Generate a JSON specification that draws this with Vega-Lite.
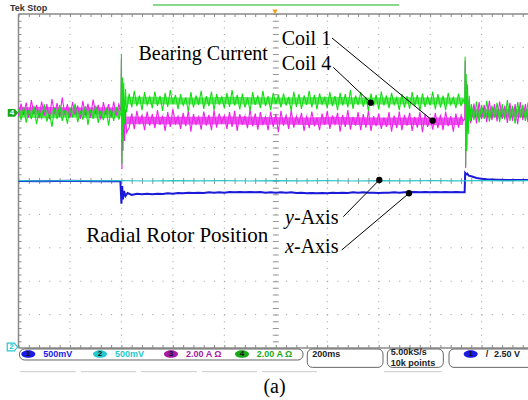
{
"$schema": "https://vega.github.io/schema/vega-lite/v6.json",
"width": 528, "height": 400, "padding": 0, "autosize": "none",
"background": "white",
"config": {"view": {"stroke": null}},
"encoding": {
  "x": {"field": "x", "type": "quantitative", "scale": {"domain": [-0.3595, 9.901], "nice": false, "zero": false}, "axis": null},
  "y": {"field": "y", "type": "quantitative", "scale": {"domain": [-6.557, 5.419], "nice": false, "zero": false}, "axis": null}
},
"layer": [
  {"data": {"name": "hgrid"}, "mark": {"type": "rule", "color": "#9a9a9a", "strokeWidth": 1, "strokeDash": [1, 9.29]}, "encoding": {"x2": {"field": "x2"}}},
  {"data": {"name": "vgrid"}, "mark": {"type": "rule", "color": "#9a9a9a", "strokeWidth": 1, "strokeDash": [1, 5.68]}, "encoding": {"y2": {"field": "y2"}}},
  {"data": {"name": "hticks"}, "mark": {"type": "rule", "color": "#999999", "strokeWidth": 6, "strokeDash": [1, 9.29]}, "encoding": {"x2": {"field": "x2"}}},
  {"data": {"name": "vticks"}, "mark": {"type": "rule", "color": "#999999", "strokeWidth": 6, "strokeDash": [1, 5.68]}, "encoding": {"y2": {"field": "y2"}}},
  {"data": {"name": "border"}, "mark": {"type": "rule", "color": "#8a8a8a", "strokeWidth": 1.5}, "encoding": {"x2": {"field": "x2"}, "y2": {"field": "y2"}}},
  {"data": {"name": "btickh"}, "mark": {"type": "rule", "color": "#8a8a8a", "strokeWidth": 3, "strokeDash": [1, 9.29]}, "encoding": {"x2": {"field": "x2"}}},
  {"data": {"name": "btickv"}, "mark": {"type": "rule", "color": "#8a8a8a", "strokeWidth": 3, "strokeDash": [1, 5.68]}, "encoding": {"y2": {"field": "y2"}}},
  {"data": {"name": "blue"}, "mark": {"type": "line", "color": "#1a1ad8", "strokeWidth": 2}},
  {"data": {"name": "teal"}, "mark": {"type": "line", "color": "#2cc6c6", "strokeWidth": 1.2}},
  {"data": {"name": "band"}, "mark": {"type": "area", "color": "#ea3aea", "opacity": 0.85},
   "encoding": {"y": {"field": "mlo", "type": "quantitative", "scale": {"domain": [-6.557, 5.419], "nice": false, "zero": false}, "axis": null}, "y2": {"field": "mhi"}, "detail": {"field": "seg"}}},
  {"data": {"name": "band"}, "mark": {"type": "area", "color": "#2ee22e", "opacity": 0.75},
   "encoding": {"y": {"field": "glo", "type": "quantitative", "scale": {"domain": [-6.557, 5.419], "nice": false, "zero": false}, "axis": null}, "y2": {"field": "ghi"}, "detail": {"field": "seg"}}},
  {"data": {"name": "ch"}, "mark": {"type": "line", "color": "#ee22ee", "strokeWidth": 1.1},
   "encoding": {"y": {"field": "m", "type": "quantitative", "scale": {"domain": [-6.557, 5.419], "nice": false, "zero": false}, "axis": null}}},
  {"data": {"name": "ch"}, "mark": {"type": "line", "color": "#14dc14", "strokeWidth": 1.1},
   "encoding": {"y": {"field": "g", "type": "quantitative", "scale": {"domain": [-6.557, 5.419], "nice": false, "zero": false}, "axis": null}}},
  {"data": {"name": "ann"}, "mark": {"type": "rule", "color": "black", "strokeWidth": 1}, "encoding": {"x2": {"field": "x2"}, "y2": {"field": "y2"}}},
  {"data": {"name": "dots"}, "mark": {"type": "point", "filled": true, "color": "black", "size": 40, "opacity": 1}},
  {"data": {"name": "lab"}, "mark": {"type": "text", "font": "Liberation Serif", "fontSize": 20, "align": "left", "baseline": "alphabetic", "color": "black"}, "encoding": {"text": {"field": "text"}}},
  {"data": {"name": "labi"}, "mark": {"type": "text", "font": "Liberation Serif", "fontSize": 20, "fontStyle": "italic", "align": "left", "baseline": "alphabetic", "color": "black"}, "encoding": {"text": {"field": "text"}}},
  {"data": {"name": "labr"}, "mark": {"type": "text", "font": "Liberation Serif", "fontSize": 21, "align": "right", "baseline": "alphabetic", "color": "black"}, "encoding": {"text": {"field": "text"}}},
  {"data": {"name": "labc"}, "mark": {"type": "text", "font": "Liberation Serif", "fontSize": 20, "align": "center", "baseline": "alphabetic", "color": "black"}, "encoding": {"text": {"field": "text"}}},
  {"data": {"name": "tek"}, "mark": {"type": "text", "font": "Liberation Sans", "fontSize": 9, "fontWeight": "bold", "align": "left", "baseline": "alphabetic", "color": "#333333"}, "encoding": {"text": {"field": "text"}}},
  {"data": {"name": "boxes"}, "mark": {"type": "rect", "fillOpacity": 0, "stroke": "#666666", "strokeWidth": 1, "cornerRadius": 5}, "encoding": {"x2": {"field": "x2"}, "y2": {"field": "y2"}}},
  {"data": {"name": "faint"}, "mark": {"type": "rule", "color": "#cccccc", "strokeWidth": 1}, "encoding": {"x2": {"field": "x2"}}},
  {"data": {"name": "ell"}, "mark": {"type": "point", "filled": true, "opacity": 1, "size": 196, "shape": "M -1 0 A 1 0.55 0 1 0 1 0 A 1 0.55 0 1 0 -1 0 Z"},
   "encoding": {"color": {"field": "c", "type": "nominal", "scale": {"domain": ["1", "2", "3", "4", "k"], "range": ["#1a1ae6", "#26c8d0", "#a41aa4", "#1aa81a", "#222222"]}, "legend": null}}},
  {"data": {"name": "elltxt"}, "mark": {"type": "text", "font": "Liberation Sans", "fontSize": 8, "fontWeight": "bold", "align": "center", "baseline": "middle", "color": "#111111"}, "encoding": {"text": {"field": "text"}}},
  {"data": {"name": "stat"}, "mark": {"type": "text", "font": "Liberation Sans", "fontSize": 9, "fontWeight": "bold", "align": "left", "baseline": "alphabetic"},
   "encoding": {"text": {"field": "text"}, "color": {"field": "c", "type": "nominal", "scale": {"domain": ["1", "2", "3", "4", "k"], "range": ["#1a1ae6", "#26c8d0", "#a41aa4", "#1aa81a", "#222222"]}, "legend": null}}},
  {"data": {"name": "stat2"}, "mark": {"type": "text", "font": "Liberation Sans", "fontSize": 9, "fontWeight": "bold", "align": "left", "baseline": "alphabetic", "color": "#222222"}, "encoding": {"text": {"field": "text"}}},
  {"data": {"name": "gnd4"}, "mark": {"type": "point", "filled": true, "opacity": 1, "color": "#1aa81a", "size": 110, "shape": "M -1 -0.75 L 0.35 -0.75 L 1 0 L 0.35 0.75 L -1 0.75 Z"}},
  {"data": {"name": "gnd2"}, "mark": {"type": "point", "filled": false, "opacity": 1, "color": "#26c8d0", "strokeWidth": 1.2, "size": 110, "shape": "M -1 -0.75 L 0.35 -0.75 L 1 0 L 0.35 0.75 L -1 0.75 Z"}},
  {"data": {"name": "gnd4t"}, "mark": {"type": "text", "font": "Liberation Sans", "fontSize": 8, "fontWeight": "bold", "align": "center", "baseline": "middle", "color": "white"}, "encoding": {"text": {"field": "text"}}},
  {"data": {"name": "gnd2t"}, "mark": {"type": "text", "font": "Liberation Sans", "fontSize": 8, "fontWeight": "bold", "align": "center", "baseline": "middle", "color": "#26c8d0"}, "encoding": {"text": {"field": "text"}}},
  {"data": {"name": "trig"}, "mark": {"type": "point", "filled": true, "opacity": 1, "color": "#f0a020", "size": 30, "shape": "triangle-down"}},
  {"data": {"name": "rec"}, "mark": {"type": "rule", "color": "#8ad88a", "strokeWidth": 2}, "encoding": {"x2": {"field": "x2"}}}
],
"datasets": {
  "hgrid": [{"x": 0, "x2": 10, "y": 4}, {"x": 0, "x2": 10, "y": 3}, {"x": 0, "x2": 10, "y": 2}, {"x": 0, "x2": 10, "y": 1}, {"x": 0, "x2": 10, "y": 0}, {"x": 0, "x2": 10, "y": -1}, {"x": 0, "x2": 10, "y": -2}, {"x": 0, "x2": 10, "y": -3}, {"x": 0, "x2": 10, "y": -4}],
  "vgrid": [{"x": 1, "y": 5, "y2": -5}, {"x": 2, "y": 5, "y2": -5}, {"x": 3, "y": 5, "y2": -5}, {"x": 4, "y": 5, "y2": -5}, {"x": 5, "y": 5, "y2": -5}, {"x": 6, "y": 5, "y2": -5}, {"x": 7, "y": 5, "y2": -5}, {"x": 8, "y": 5, "y2": -5}, {"x": 9, "y": 5, "y2": -5}],
  "hticks": [{"x": 0, "x2": 10, "y": 0}],
  "vticks": [{"x": 5, "y": 5, "y2": -5}],
  "border": [{"x": 0, "x2": 10, "y": 5, "y2": 5}, {"x": 0, "x2": 10, "y": -5, "y2": -5}, {"x": 0, "x2": 0, "y": 5, "y2": -5}],
  "btickh": [{"x": 0, "x2": 10, "y": 4.955}, {"x": 0, "x2": 10, "y": -4.955}],
  "btickv": [{"x": 0.029, "y": 5, "y2": -5}],
  "band": [
    {"x": 0, "seg": "a", "glo": 1.9, "ghi": 2.1, "mlo": 1.98, "mhi": 2.2}, {"x": 0.5, "seg": "a", "glo": 1.88, "ghi": 2.12, "mlo": 2.0, "mhi": 2.22},
    {"x": 1.0, "seg": "a", "glo": 1.9, "ghi": 2.1, "mlo": 1.97, "mhi": 2.2}, {"x": 1.5, "seg": "a", "glo": 1.88, "ghi": 2.1, "mlo": 1.98, "mhi": 2.21},
    {"x": 1.98, "seg": "a", "glo": 1.9, "ghi": 2.1, "mlo": 1.98, "mhi": 2.2},
    {"x": 2.1, "seg": "b", "glo": 2.3, "ghi": 2.52, "mlo": 1.7, "mhi": 1.93}, {"x": 2.6, "seg": "b", "glo": 2.3, "ghi": 2.52, "mlo": 1.7, "mhi": 1.92},
    {"x": 3.1, "seg": "b", "glo": 2.29, "ghi": 2.5, "mlo": 1.69, "mhi": 1.92}, {"x": 3.6, "seg": "b", "glo": 2.3, "ghi": 2.5, "mlo": 1.69, "mhi": 1.92},
    {"x": 4.1, "seg": "b", "glo": 2.3, "ghi": 2.52, "mlo": 1.7, "mhi": 1.93}, {"x": 4.6, "seg": "b", "glo": 2.29, "ghi": 2.51, "mlo": 1.68, "mhi": 1.92},
    {"x": 5.1, "seg": "b", "glo": 2.3, "ghi": 2.5, "mlo": 1.69, "mhi": 1.91}, {"x": 5.6, "seg": "b", "glo": 2.3, "ghi": 2.51, "mlo": 1.68, "mhi": 1.9},
    {"x": 6.1, "seg": "b", "glo": 2.29, "ghi": 2.52, "mlo": 1.69, "mhi": 1.92}, {"x": 6.6, "seg": "b", "glo": 2.3, "ghi": 2.5, "mlo": 1.68, "mhi": 1.91},
    {"x": 7.1, "seg": "b", "glo": 2.29, "ghi": 2.5, "mlo": 1.67, "mhi": 1.9}, {"x": 7.6, "seg": "b", "glo": 2.3, "ghi": 2.51, "mlo": 1.68, "mhi": 1.9},
    {"x": 8.1, "seg": "b", "glo": 2.29, "ghi": 2.5, "mlo": 1.67, "mhi": 1.9}, {"x": 8.64, "seg": "b", "glo": 2.3, "ghi": 2.5, "mlo": 1.68, "mhi": 1.9},
    {"x": 8.78, "seg": "c", "glo": 1.92, "ghi": 2.16, "mlo": 1.9, "mhi": 2.14}, {"x": 9.2, "seg": "c", "glo": 1.93, "ghi": 2.17, "mlo": 1.9, "mhi": 2.13},
    {"x": 9.6, "seg": "c", "glo": 1.92, "ghi": 2.16, "mlo": 1.91, "mhi": 2.14}, {"x": 9.95, "seg": "c", "glo": 1.92, "ghi": 2.16, "mlo": 1.9, "mhi": 2.14}
  ],
  "blue": [
    {"x": 0, "y": 0.0}, {"x": 0.5, "y": -0.01}, {"x": 1.0, "y": 0.01}, {"x": 1.5, "y": -0.01}, {"x": 1.98, "y": 0.0},
    {"x": 2.0, "y": -0.68}, {"x": 2.015, "y": -0.15}, {"x": 2.03, "y": -0.55}, {"x": 2.05, "y": -0.3}, {"x": 2.08, "y": -0.45}, {"x": 2.12, "y": -0.36}, {"x": 2.2, "y": -0.42},
    {"x": 2.3, "y": -0.38}, {"x": 2.4, "y": -0.4}, {"x": 2.5, "y": -0.38}, {"x": 2.6, "y": -0.4}, {"x": 2.7, "y": -0.38}, {"x": 2.8, "y": -0.39}, {"x": 2.9, "y": -0.37}, {"x": 3.0, "y": -0.38},
    {"x": 3.1, "y": -0.36}, {"x": 3.2, "y": -0.37}, {"x": 3.3, "y": -0.35}, {"x": 3.4, "y": -0.36}, {"x": 3.5, "y": -0.35}, {"x": 3.6, "y": -0.36}, {"x": 3.7, "y": -0.34}, {"x": 3.8, "y": -0.35}, {"x": 3.9, "y": -0.34}, {"x": 4.0, "y": -0.35},
    {"x": 4.1, "y": -0.33}, {"x": 4.2, "y": -0.34}, {"x": 4.3, "y": -0.33}, {"x": 4.4, "y": -0.34}, {"x": 4.5, "y": -0.33}, {"x": 4.6, "y": -0.34}, {"x": 4.7, "y": -0.33}, {"x": 4.8, "y": -0.35}, {"x": 4.9, "y": -0.34}, {"x": 5.0, "y": -0.35},
    {"x": 5.1, "y": -0.34}, {"x": 5.2, "y": -0.35}, {"x": 5.3, "y": -0.34}, {"x": 5.4, "y": -0.36}, {"x": 5.5, "y": -0.35}, {"x": 5.6, "y": -0.37}, {"x": 5.7, "y": -0.36}, {"x": 5.8, "y": -0.37}, {"x": 5.9, "y": -0.36}, {"x": 6.0, "y": -0.37},
    {"x": 6.1, "y": -0.35}, {"x": 6.2, "y": -0.36}, {"x": 6.3, "y": -0.35}, {"x": 6.4, "y": -0.36}, {"x": 6.5, "y": -0.34}, {"x": 6.6, "y": -0.35}, {"x": 6.7, "y": -0.34}, {"x": 6.8, "y": -0.35}, {"x": 6.9, "y": -0.35}, {"x": 7.0, "y": -0.36},
    {"x": 7.1, "y": -0.35}, {"x": 7.2, "y": -0.35}, {"x": 7.3, "y": -0.34}, {"x": 7.4, "y": -0.35}, {"x": 7.5, "y": -0.34}, {"x": 7.6, "y": -0.34}, {"x": 7.7, "y": -0.33}, {"x": 7.8, "y": -0.34}, {"x": 7.9, "y": -0.33}, {"x": 8.0, "y": -0.34},
    {"x": 8.1, "y": -0.33}, {"x": 8.2, "y": -0.34}, {"x": 8.3, "y": -0.33}, {"x": 8.4, "y": -0.34}, {"x": 8.5, "y": -0.33}, {"x": 8.6, "y": -0.34}, {"x": 8.67, "y": -0.34},
    {"x": 8.68, "y": 0.24}, {"x": 8.7, "y": 0.2}, {"x": 8.72, "y": 0.22}, {"x": 8.75, "y": 0.16}, {"x": 8.8, "y": 0.14}, {"x": 8.9, "y": 0.09}, {"x": 9.0, "y": 0.07}, {"x": 9.1, "y": 0.05}, {"x": 9.3, "y": 0.04}, {"x": 9.5, "y": 0.03}, {"x": 9.7, "y": 0.03}, {"x": 9.9, "y": 0.03}
  ],
  "teal": [
    {"x": 0, "y": 0.01}, {"x": 0.5, "y": 0.0}, {"x": 1.0, "y": 0.015}, {"x": 1.5, "y": 0.005}, {"x": 2.0, "y": 0.01}, {"x": 2.5, "y": 0.0}, {"x": 3.0, "y": 0.012}, {"x": 3.5, "y": 0.004}, {"x": 4.0, "y": 0.01}, {"x": 4.5, "y": 0.0},
    {"x": 5.0, "y": 0.012}, {"x": 5.5, "y": 0.005}, {"x": 6.0, "y": 0.01}, {"x": 6.5, "y": 0.0}, {"x": 7.0, "y": 0.012}, {"x": 7.5, "y": 0.004}, {"x": 8.0, "y": 0.01}, {"x": 8.5, "y": 0.002}, {"x": 9.0, "y": 0.012}, {"x": 9.5, "y": 0.006}, {"x": 9.95, "y": 0.01}
  ],
  "ch": [
    {"x": 0, "g": 2.15, "m": 1.95}, {"x": 0.05, "g": 1.82, "m": 2.32}, {"x": 0.1, "g": 2.22, "m": 1.98}, {"x": 0.15, "g": 1.75, "m": 2.35}, {"x": 0.2, "g": 2.12, "m": 1.9},
    {"x": 0.25, "g": 1.85, "m": 2.42}, {"x": 0.3, "g": 2.25, "m": 2.0}, {"x": 0.35, "g": 1.7, "m": 2.28}, {"x": 0.4, "g": 2.1, "m": 1.88}, {"x": 0.45, "g": 1.88, "m": 2.38},
    {"x": 0.5, "g": 2.3, "m": 1.95}, {"x": 0.55, "g": 1.78, "m": 2.3}, {"x": 0.6, "g": 2.05, "m": 1.85}, {"x": 0.65, "g": 1.62, "m": 2.45}, {"x": 0.7, "g": 2.18, "m": 2.02},
    {"x": 0.75, "g": 1.85, "m": 2.33}, {"x": 0.8, "g": 2.28, "m": 1.92}, {"x": 0.85, "g": 1.8, "m": 2.5}, {"x": 0.9, "g": 2.12, "m": 1.98}, {"x": 0.95, "g": 1.72, "m": 2.3},
    {"x": 1.0, "g": 2.2, "m": 1.88}, {"x": 1.05, "g": 1.9, "m": 2.36}, {"x": 1.1, "g": 2.32, "m": 2.0}, {"x": 1.15, "g": 1.76, "m": 2.26}, {"x": 1.2, "g": 2.08, "m": 1.86},
    {"x": 1.25, "g": 1.84, "m": 2.4}, {"x": 1.3, "g": 2.24, "m": 1.96}, {"x": 1.35, "g": 1.68, "m": 2.32}, {"x": 1.4, "g": 2.14, "m": 1.9}, {"x": 1.45, "g": 1.86, "m": 2.44},
    {"x": 1.5, "g": 2.26, "m": 2.02}, {"x": 1.55, "g": 1.74, "m": 2.28}, {"x": 1.6, "g": 2.1, "m": 1.84}, {"x": 1.65, "g": 1.82, "m": 2.36}, {"x": 1.7, "g": 2.2, "m": 1.98},
    {"x": 1.75, "g": 1.66, "m": 2.3}, {"x": 1.8, "g": 2.16, "m": 1.9}, {"x": 1.85, "g": 1.8, "m": 2.38}, {"x": 1.9, "g": 2.22, "m": 1.96}, {"x": 1.95, "g": 1.84, "m": 2.3},
    {"x": 1.99, "g": 2.05, "m": 2.1}, {"x": 2.0, "g": 3.8, "m": 3.65}, {"x": 2.01, "g": 0.5, "m": 0.35}, {"x": 2.02, "g": 3.1, "m": 2.8}, {"x": 2.03, "g": 1.2, "m": 0.9},
    {"x": 2.045, "g": 2.95, "m": 2.4}, {"x": 2.06, "g": 1.7, "m": 1.2}, {"x": 2.08, "g": 2.75, "m": 2.15}, {"x": 2.1, "g": 2.05, "m": 1.45},
    {"x": 2.15, "g": 2.62, "m": 1.6}, {"x": 2.2, "g": 2.2, "m": 2.02}, {"x": 2.25, "g": 2.7, "m": 1.55}, {"x": 2.3, "g": 2.24, "m": 2.1}, {"x": 2.35, "g": 2.56, "m": 1.7},
    {"x": 2.4, "g": 2.12, "m": 1.98}, {"x": 2.45, "g": 2.66, "m": 1.52}, {"x": 2.5, "g": 2.28, "m": 2.08}, {"x": 2.55, "g": 2.52, "m": 1.66}, {"x": 2.6, "g": 2.18, "m": 2.0},
    {"x": 2.65, "g": 2.68, "m": 1.58}, {"x": 2.7, "g": 2.25, "m": 2.12}, {"x": 2.75, "g": 2.55, "m": 1.68}, {"x": 2.8, "g": 2.1, "m": 1.96}, {"x": 2.85, "g": 2.64, "m": 1.5},
    {"x": 2.9, "g": 2.22, "m": 2.06}, {"x": 2.95, "g": 2.72, "m": 1.62}, {"x": 3.0, "g": 2.3, "m": 2.15}, {"x": 3.05, "g": 2.58, "m": 1.72}, {"x": 3.1, "g": 2.15, "m": 1.94},
    {"x": 3.15, "g": 2.6, "m": 1.56}, {"x": 3.2, "g": 2.26, "m": 2.04}, {"x": 3.25, "g": 2.5, "m": 1.64}, {"x": 3.3, "g": 2.08, "m": 2.1}, {"x": 3.35, "g": 2.66, "m": 1.48},
    {"x": 3.4, "g": 2.2, "m": 2.0}, {"x": 3.45, "g": 2.56, "m": 1.7}, {"x": 3.5, "g": 2.28, "m": 1.92}, {"x": 3.55, "g": 2.7, "m": 1.54}, {"x": 3.6, "g": 2.16, "m": 2.08},
    {"x": 3.65, "g": 2.54, "m": 1.66}, {"x": 3.7, "g": 2.24, "m": 1.98}, {"x": 3.75, "g": 2.68, "m": 1.52}, {"x": 3.8, "g": 2.12, "m": 2.12}, {"x": 3.85, "g": 2.6, "m": 1.6},
    {"x": 3.9, "g": 2.3, "m": 2.02}, {"x": 3.95, "g": 2.52, "m": 1.74}, {"x": 4.0, "g": 2.18, "m": 1.95}, {"x": 4.05, "g": 2.64, "m": 1.56}, {"x": 4.1, "g": 2.22, "m": 2.06},
    {"x": 4.15, "g": 2.72, "m": 1.62}, {"x": 4.2, "g": 2.26, "m": 2.1}, {"x": 4.25, "g": 2.58, "m": 1.5}, {"x": 4.3, "g": 2.14, "m": 2.0}, {"x": 4.35, "g": 2.62, "m": 1.68},
    {"x": 4.4, "g": 2.2, "m": 1.96}, {"x": 4.45, "g": 2.5, "m": 1.58}, {"x": 4.5, "g": 2.1, "m": 2.14}, {"x": 4.55, "g": 2.66, "m": 1.64}, {"x": 4.6, "g": 2.28, "m": 2.02},
    {"x": 4.65, "g": 2.56, "m": 1.54}, {"x": 4.7, "g": 2.18, "m": 2.06}, {"x": 4.75, "g": 2.7, "m": 1.7}, {"x": 4.8, "g": 2.24, "m": 1.92}, {"x": 4.85, "g": 2.54, "m": 1.52},
    {"x": 4.9, "g": 2.12, "m": 2.08}, {"x": 4.95, "g": 2.64, "m": 1.62}, {"x": 5.0, "g": 2.3, "m": 2.0}, {"x": 5.05, "g": 2.58, "m": 1.46}, {"x": 5.1, "g": 2.2, "m": 2.1},
    {"x": 5.15, "g": 2.62, "m": 1.66}, {"x": 5.2, "g": 2.26, "m": 1.98}, {"x": 5.25, "g": 2.52, "m": 1.56}, {"x": 5.3, "g": 2.1, "m": 2.12}, {"x": 5.35, "g": 2.68, "m": 1.6},
    {"x": 5.4, "g": 2.22, "m": 1.94}, {"x": 5.45, "g": 2.6, "m": 1.72}, {"x": 5.5, "g": 2.16, "m": 2.04}, {"x": 5.55, "g": 2.56, "m": 1.5}, {"x": 5.6, "g": 2.28, "m": 1.96},
    {"x": 5.65, "g": 2.7, "m": 1.58}, {"x": 5.7, "g": 2.2, "m": 2.08}, {"x": 5.75, "g": 2.58, "m": 1.64}, {"x": 5.8, "g": 2.14, "m": 1.9}, {"x": 5.85, "g": 2.62, "m": 1.52},
    {"x": 5.9, "g": 2.3, "m": 2.02}, {"x": 5.95, "g": 2.5, "m": 1.68}, {"x": 6.0, "g": 2.18, "m": 2.1}, {"x": 6.05, "g": 2.66, "m": 1.56}, {"x": 6.1, "g": 2.24, "m": 1.96},
    {"x": 6.15, "g": 2.54, "m": 1.7}, {"x": 6.2, "g": 2.12, "m": 2.04}, {"x": 6.25, "g": 2.64, "m": 1.48}, {"x": 6.3, "g": 2.26, "m": 1.98}, {"x": 6.35, "g": 2.6, "m": 1.62},
    {"x": 6.4, "g": 2.2, "m": 2.12}, {"x": 6.45, "g": 2.72, "m": 1.54}, {"x": 6.5, "g": 2.16, "m": 1.92}, {"x": 6.55, "g": 2.56, "m": 1.66}, {"x": 6.6, "g": 2.28, "m": 2.06},
    {"x": 6.65, "g": 2.66, "m": 1.52}, {"x": 6.7, "g": 2.22, "m": 2.0}, {"x": 6.75, "g": 2.52, "m": 1.6}, {"x": 6.8, "g": 2.1, "m": 2.1}, {"x": 6.85, "g": 2.62, "m": 1.5},
    {"x": 6.9, "g": 2.24, "m": 1.94}, {"x": 6.95, "g": 2.58, "m": 1.64}, {"x": 7.0, "g": 2.14, "m": 2.02}, {"x": 7.05, "g": 2.68, "m": 1.56}, {"x": 7.1, "g": 2.26, "m": 1.9},
    {"x": 7.15, "g": 2.56, "m": 1.62}, {"x": 7.2, "g": 2.18, "m": 2.06}, {"x": 7.25, "g": 2.64, "m": 1.48}, {"x": 7.3, "g": 2.28, "m": 1.96}, {"x": 7.35, "g": 2.5, "m": 1.58},
    {"x": 7.4, "g": 2.12, "m": 2.08}, {"x": 7.45, "g": 2.6, "m": 1.52}, {"x": 7.5, "g": 2.2, "m": 1.98}, {"x": 7.55, "g": 2.54, "m": 1.66}, {"x": 7.6, "g": 2.16, "m": 2.04},
    {"x": 7.65, "g": 2.66, "m": 1.5}, {"x": 7.7, "g": 2.24, "m": 1.92}, {"x": 7.75, "g": 2.58, "m": 1.6}, {"x": 7.8, "g": 2.1, "m": 2.06}, {"x": 7.85, "g": 2.62, "m": 1.46},
    {"x": 7.9, "g": 2.22, "m": 2.0}, {"x": 7.95, "g": 2.52, "m": 1.62}, {"x": 8.0, "g": 2.26, "m": 1.9}, {"x": 8.05, "g": 2.68, "m": 1.54}, {"x": 8.1, "g": 2.14, "m": 2.04},
    {"x": 8.15, "g": 2.6, "m": 1.58}, {"x": 8.2, "g": 2.2, "m": 1.98}, {"x": 8.25, "g": 2.56, "m": 1.52}, {"x": 8.3, "g": 2.12, "m": 2.08}, {"x": 8.35, "g": 2.64, "m": 1.64},
    {"x": 8.4, "g": 2.28, "m": 1.94}, {"x": 8.45, "g": 2.5, "m": 1.48}, {"x": 8.5, "g": 2.18, "m": 2.02}, {"x": 8.55, "g": 2.62, "m": 1.6}, {"x": 8.6, "g": 2.24, "m": 1.96},
    {"x": 8.64, "g": 2.45, "m": 1.8}, {"x": 8.67, "g": 2.3, "m": 1.85}, {"x": 8.68, "g": 3.72, "m": 3.6}, {"x": 8.69, "g": 0.45, "m": 0.39}, {"x": 8.7, "g": 3.2, "m": 3.0},
    {"x": 8.71, "g": 0.9, "m": 1.0}, {"x": 8.725, "g": 2.9, "m": 2.7}, {"x": 8.74, "g": 1.4, "m": 1.5}, {"x": 8.76, "g": 2.55, "m": 2.45}, {"x": 8.78, "g": 1.8, "m": 1.75},
    {"x": 8.8, "g": 2.3, "m": 1.8}, {"x": 8.85, "g": 1.82, "m": 2.32}, {"x": 8.9, "g": 2.38, "m": 1.72}, {"x": 8.95, "g": 1.75, "m": 2.36}, {"x": 9.0, "g": 2.28, "m": 1.85},
    {"x": 9.05, "g": 1.86, "m": 2.28}, {"x": 9.1, "g": 2.4, "m": 1.76}, {"x": 9.15, "g": 1.78, "m": 2.4}, {"x": 9.2, "g": 2.26, "m": 1.82}, {"x": 9.25, "g": 1.9, "m": 2.3},
    {"x": 9.3, "g": 2.34, "m": 1.78}, {"x": 9.35, "g": 1.76, "m": 2.38}, {"x": 9.4, "g": 2.3, "m": 1.86}, {"x": 9.45, "g": 1.84, "m": 2.26}, {"x": 9.5, "g": 2.42, "m": 1.74},
    {"x": 9.55, "g": 1.8, "m": 2.34}, {"x": 9.6, "g": 2.25, "m": 1.8}, {"x": 9.65, "g": 1.72, "m": 2.3}, {"x": 9.7, "g": 2.36, "m": 1.7}, {"x": 9.75, "g": 1.88, "m": 2.36},
    {"x": 9.8, "g": 2.28, "m": 1.82}, {"x": 9.85, "g": 1.8, "m": 2.3}, {"x": 9.9, "g": 2.35, "m": 1.76}, {"x": 9.95, "g": 1.85, "m": 2.32}
  ],
  "ann": [
    {"x": 6.092, "y": 4.281, "x2": 8.049, "y2": 1.805},
    {"x": 6.117, "y": 3.404, "x2": 6.844, "y2": 2.344},
    {"x": 6.312, "y": -1.069, "x2": 7.011, "y2": 0.03},
    {"x": 6.281, "y": -2.066, "x2": 7.588, "y2": -0.368}
  ],
  "dots": [{"x": 8.049, "y": 1.805}, {"x": 6.844, "y": 2.344}, {"x": 7.011, "y": 0.03}, {"x": 7.588, "y": -0.368}],
  "lab": [
    {"x": 2.332, "y": 3.623, "text": "Bearing Current"},
    {"x": 5.115, "y": 4.072, "text": "Coil 1"},
    {"x": 5.115, "y": 3.323, "text": "Coil 4"},
    {"x": 5.354, "y": -1.287, "text": "-Axis"},
    {"x": 5.354, "y": -2.165, "text": "-Axis"}
  ],
  "labi": [{"x": 5.179, "y": -1.287, "text": "y"}, {"x": 5.179, "y": -2.165, "text": "x"}],
  "labr": [{"x": 4.854, "y": -1.817, "text": "Radial Rotor Position"}],
  "labc": [{"x": 4.975, "y": -6.356, "text": "(a)"}],
  "tek": [{"x": -0.165, "y": 5.09, "text": "Tek Stop"}],
  "boxes": [
    {"x": 0.019, "x2": 5.529, "y": -5.03, "y2": -5.359},
    {"x": 5.612, "x2": 7.083, "y": -5.03, "y2": -5.58},
    {"x": 7.167, "x2": 8.255, "y": -5.03, "y2": -5.58},
    {"x": 8.366, "x2": 10.04, "y": -5.03, "y2": -5.58}
  ],
  "faint": [
    {"x": 0.029, "x2": 1.117, "y": -5.709}, {"x": 1.215, "x2": 2.283, "y": -5.709}, {"x": 2.381, "x2": 3.469, "y": -5.709},
    {"x": 3.566, "x2": 4.635, "y": -5.709}, {"x": 4.732, "x2": 5.801, "y": -5.709}, {"x": 7.103, "x2": 8.23, "y": -5.709}
  ],
  "ell": [
    {"x": 0.19, "y": -5.18, "c": "1"}, {"x": 1.584, "y": -5.18, "c": "2"}, {"x": 2.963, "y": -5.18, "c": "3"}, {"x": 4.343, "y": -5.18, "c": "4"}, {"x": 8.787, "y": -5.18, "c": "1"}
  ],
  "elltxt": [
    {"x": 0.19, "y": -5.18, "text": "1"}, {"x": 1.584, "y": -5.18, "text": "2"}, {"x": 2.963, "y": -5.18, "text": "3"}, {"x": 4.343, "y": -5.18, "text": "4"}, {"x": 8.787, "y": -5.18, "text": "1"}
  ],
  "stat": [
    {"x": 0.482, "y": -5.27, "text": "500mV", "c": "1"},
    {"x": 1.875, "y": -5.27, "text": "500mV", "c": "2"},
    {"x": 3.255, "y": -5.27, "text": "2.00 A Ω", "c": "3"},
    {"x": 4.629, "y": -5.27, "text": "2.00 A Ω", "c": "4"},
    {"x": 5.709, "y": -5.27, "text": "200ms", "c": "k"},
    {"x": 9.079, "y": -5.27, "text": "/", "c": "k"},
    {"x": 9.24, "y": -5.27, "text": "2.50 V", "c": "k"}
  ],
  "stat2": [
    {"x": 7.233, "y": -5.22, "text": "5.00kS/s"},
    {"x": 7.233, "y": -5.525, "text": "10k points"}
  ],
  "gnd4": [{"x": -0.107, "y": 2.04}],
  "gnd2": [{"x": -0.117, "y": -4.97}],
  "gnd4t": [{"x": -0.125, "y": 2.04, "text": "4"}],
  "gnd2t": [{"x": -0.135, "y": -4.97, "text": "2"}],
  "trig": [{"x": 4.985, "y": 5.06}],
  "rec": [{"x": 2.614, "x2": 7.394, "y": 5.269}]
}
}
